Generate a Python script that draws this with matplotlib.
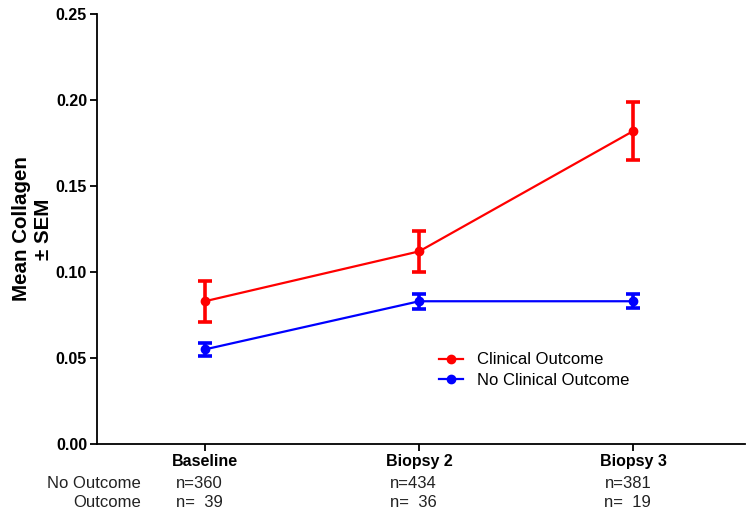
import matplotlib
matplotlib.use('Agg')
import matplotlib.pyplot as plt

plt.rcParams['font.family'] = ['Liberation Sans', 'DejaVu Sans']

timepoints = ['Baseline', 'Biopsy 2', 'Biopsy 3']
outcome_mean = [0.083, 0.112, 0.182]
outcome_sem = [0.012, 0.012, 0.017]
no_outcome_mean = [0.055, 0.083, 0.083]
no_outcome_sem = [0.004, 0.0045, 0.004]
n_no_outcome = ['n=360', 'n=434', 'n=381']
n_outcome = ['n=  39', 'n=  36', 'n=  19']


def draw_plot():
  fig = plt.figure(figsize=(7.5, 5.19), dpi=100)
  ax = fig.add_axes([0.129, 0.1445, 0.864, 0.8285])
  x = list(range(len(timepoints)))

  # Clinical outcome group
  ax.errorbar(x, outcome_mean, yerr=outcome_sem, color='#ff0000', marker='o',
              markersize=6, linewidth=1.6, elinewidth=2.6, capsize=5,
              capthick=2.6, label='Clinical Outcome')
  # No clinical outcome group
  ax.errorbar(x, no_outcome_mean, yerr=no_outcome_sem, color='#0000ff',
              marker='o', markersize=6, linewidth=1.6, elinewidth=2.6,
              capsize=5, capthick=2.6, label='No Clinical Outcome')

  ax.set_xlim(-0.505, 2.52)
  ax.set_ylim(0, 0.25)
  ax.set_yticks([0.0, 0.05, 0.10, 0.15, 0.20, 0.25])
  ax.set_yticklabels(['0.00', '0.05', '0.10', '0.15', '0.20', '0.25'],
                     fontweight='bold', fontsize=11.5)
  ax.set_xticks(x)
  ax.set_xticklabels(timepoints, fontweight='bold', fontsize=11.5)
  ax.tick_params(axis='both', direction='out', length=5, width=1.3, pad=2)

  for side in ['top', 'right']:
    ax.spines[side].set_visible(False)
  for side in ['left', 'bottom']:
    ax.spines[side].set_linewidth(1.3)

  ax.set_ylabel('Mean Collagen\n\u00b1 SEM', fontweight='bold', fontsize=14.8,
                linespacing=1.2)
  ax.yaxis.set_label_coords(-0.068, 0.5)

  # Sample sizes under the axis
  trans = ax.get_xaxis_transform()
  ax.text(-0.3, -0.091, 'No Outcome', transform=trans, ha='right',
          va='center', fontsize=12, color='#222222')
  ax.text(-0.3, -0.137, 'Outcome', transform=trans, ha='right',
          va='center', fontsize=12, color='#222222')
  for i in x:
    ax.text(i - 0.135, -0.091, n_no_outcome[i], transform=trans, ha='left',
            va='center', fontsize=12, color='#222222')
    ax.text(i - 0.135, -0.137, n_outcome[i], transform=trans, ha='left',
            va='center', fontsize=12, color='#222222')

  handles, labels = ax.get_legend_handles_labels()
  handles = [h[0] for h in handles]
  ax.legend(handles, labels, loc='upper left', bbox_to_anchor=(0.585, 0.321),
            bbox_transform=fig.transFigure, frameon=False, fontsize=12,
            borderaxespad=0, borderpad=0, handlelength=1.45,
            handletextpad=0.85, labelspacing=0.35)

  fig.savefig('out.png', dpi=100)
  return ax


draw_plot()
